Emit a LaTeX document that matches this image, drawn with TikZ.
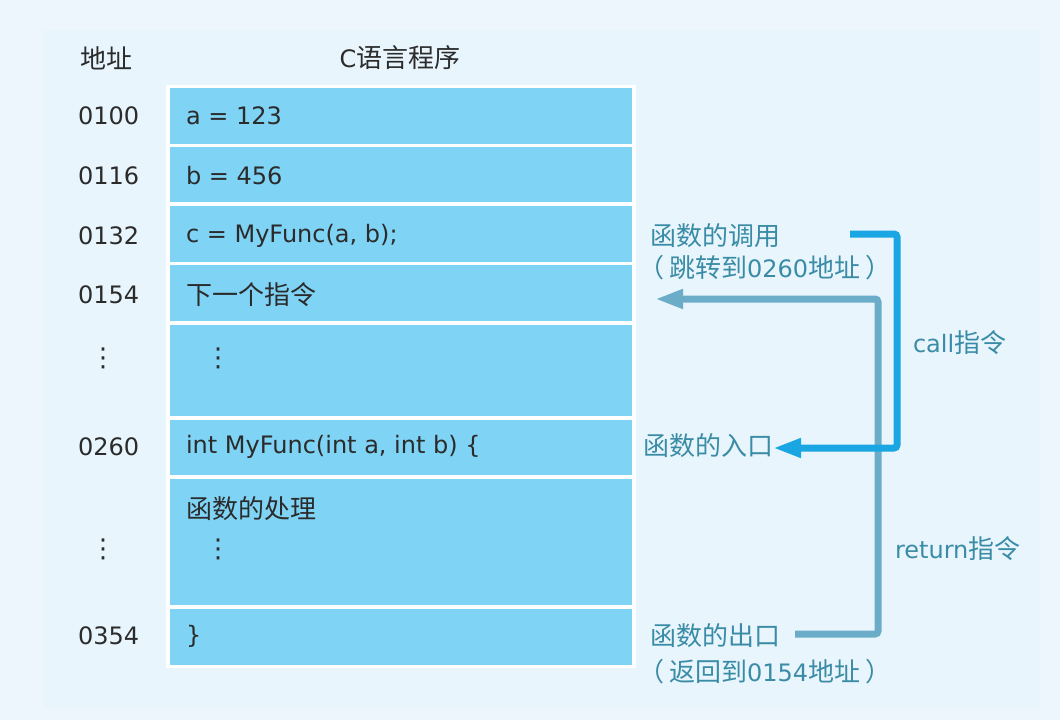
\documentclass[tikz,border=0pt]{standalone}
\usepackage{fontspec}
\setmainfont{DejaVu Sans}
\newfontfamily\cjk{Noto Sans CJK SC}
\usetikzlibrary{arrows.meta}
\definecolor{bgout}{HTML}{EEF6FD}
\definecolor{bgin}{HTML}{E8F5FC}
\definecolor{boxfill}{HTML}{7FD3F5}
\definecolor{callc}{HTML}{1AA6E3}
\definecolor{retc}{HTML}{6BADC9}
\definecolor{lblc}{HTML}{3A8CA6}
\definecolor{txtc}{HTML}{2B2B2B}
\newcommand\zh[1]{{\cjk\fontsize{26}{30}\selectfont #1}}
\begin{document}
\begin{tikzpicture}[x=1pt,y=-1pt,
  every node/.style={inner sep=0pt, outer sep=0pt, font=\fontsize{24}{28}\selectfont},
  rowbox/.style={fill=boxfill, draw=none, anchor=north west},
  code/.style={anchor=west, text=txtc},
  addr/.style={anchor=west, text=txtc},
  lbl/.style={anchor=west, text=lblc},
  vdots/.style={text=txtc, font=\fontsize{26}{30}\selectfont},
  callline/.style={draw=callc, line width=7pt, rounded corners=3pt, -{Triangle[length=28pt,width=18pt]}},
  retline/.style={draw=retc, line width=7pt, rounded corners=3pt, -{Triangle[length=28pt,width=18pt]}}
]
\useasboundingbox (0,0) rectangle (1060,720);
\fill[bgout] (0,0) rectangle (1060,720);
\fill[bgin] (43,30) rectangle (1040,708);
\fill[white] (166,85) rectangle (636,668);

% rows
\node[rowbox, minimum width=462pt, minimum height=56pt] (r1) at (170,88) {};
\node[rowbox, minimum width=462pt, minimum height=55pt] (r2) at (170,147) {};
\node[rowbox, minimum width=462pt, minimum height=56pt] (r3) at (170,206) {};
\node[rowbox, minimum width=462pt, minimum height=56pt] (r4) at (170,265) {};
\node[rowbox, minimum width=462pt, minimum height=91pt] (r5) at (170,325) {};
\node[rowbox, minimum width=462pt, minimum height=55pt] (r6) at (170,420) {};
\node[rowbox, minimum width=462pt, minimum height=126pt] (r7) at (170,479) {};
\node[rowbox, minimum width=462pt, minimum height=56pt] (r8) at (170,609) {};

% headers
\node[anchor=west, text=txtc] (hA) at (80,58) {\zh{地址}};
\node[text=txtc] (hC) at (400,58) {C\zh{语言程序}};

% addresses
\node[addr] (a1) at (78,116) {0100};
\node[addr] (a2) at (78,176) {0116};
\node[addr] (a3) at (78,236) {0132};
\node[addr] (a4) at (78,295) {0154};
\node[vdots] (a5) at (103,358) {⋮};
\node[addr] (a6) at (78,447) {0260};
\node[vdots] (a7) at (103,549) {⋮};
\node[addr] (a8) at (78,636) {0354};

% code
\node[code] (t1) at (186,116) {a = 123};
\node[code] (t2) at (186,176) {b = 456};
\node[code] (t3) at (186,236) {c = MyFunc(a, b);};
\node[code] (t4) at (186,295) {\zh{下一个指令}};
\node[vdots] (t5) at (218,358) {⋮};
\node[code] (t6) at (186,447) {int MyFunc(int a, int b) \{};
\node[code] (t7) at (186,509) {\zh{函数的处理}};
\node[vdots] (t7b) at (218,549) {⋮};
\node[code] (t8) at (186,636) {\}};

% labels
\node[lbl] (call1) at (650,236) {\zh{函数的调用}};
\node[lbl] (call2) at (638,268) {\zh{（}\hspace{5pt}\zh{跳转到}0260\zh{地址}\hspace{5pt}\zh{）}};
\node[lbl] (entry) at (643,446) {\zh{函数的入口}};
\node[lbl] (exit1) at (650,636) {\zh{函数的出口}};
\node[lbl] (exit2) at (638,672) {\zh{（}\hspace{5pt}\zh{返回到}0154\zh{地址}\hspace{5pt}\zh{）}};
\node[lbl] (callI) at (913,343) {call\zh{指令}};
\node[lbl] (retI) at (895,549) {return\zh{指令}};

% connectors
\coordinate (rs) at (795,634);
\coordinate (rc1) at (878,634);
\coordinate (rc2) at (878,299);
\coordinate (rt) at (655,299);
\draw[retline] (rs) -- (rc1) -- (rc2) -- (rt);

\coordinate (cs) at (850,234);
\coordinate (cc1) at (897,234);
\coordinate (cc2) at (897,448);
\draw[callline] (cs) -- (cc1) -- (cc2) -- (cc2 -| entry.east);
\end{tikzpicture}
\end{document}
